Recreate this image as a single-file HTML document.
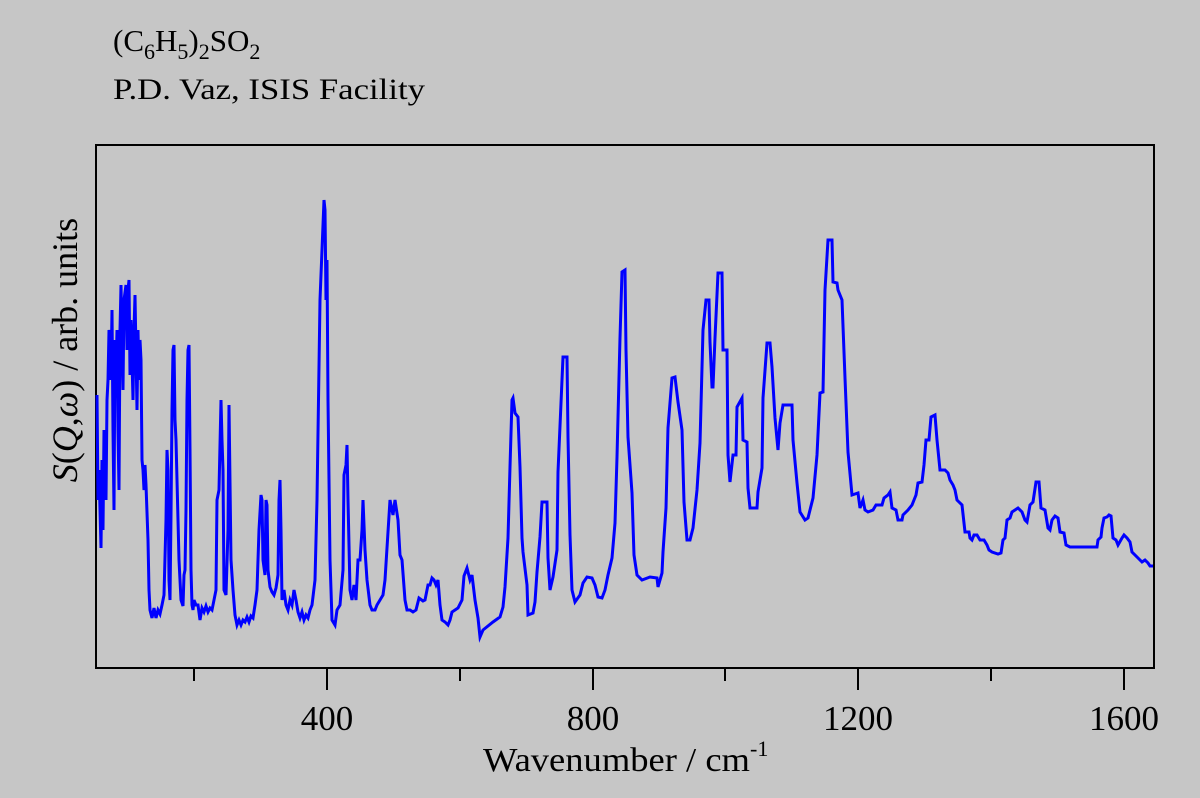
<!DOCTYPE html>
<html><head><meta charset="utf-8"><style>
html,body{margin:0;padding:0;background:#c6c6c6;}
svg{display:block;font-family:"Liberation Serif",serif;}
</style></head><body>
<svg width="1200" height="798" viewBox="0 0 1200 798" xmlns="http://www.w3.org/2000/svg">
<rect width="1200" height="798" fill="#c6c6c6"/>
<text x="113" y="51" font-size="31">(C<tspan font-size="22" dy="8">6</tspan><tspan dy="-8">H</tspan><tspan font-size="22" dy="8">5</tspan><tspan dy="-8">)</tspan><tspan font-size="22" dy="8">2</tspan><tspan dy="-8">SO</tspan><tspan font-size="22" dy="8">2</tspan></text>
<text x="113" y="99" font-size="30" textLength="312" lengthAdjust="spacingAndGlyphs">P.D. Vaz, ISIS Facility</text>
<rect x="96" y="145" width="1058" height="523" fill="none" stroke="#000" stroke-width="2"/>
<g stroke="#000" stroke-width="2">
<line x1="327" y1="668" x2="327" y2="690"/><line x1="593" y1="668" x2="593" y2="690"/><line x1="858" y1="668" x2="858" y2="690"/><line x1="1124" y1="668" x2="1124" y2="690"/>
<line x1="194" y1="668" x2="194" y2="681"/><line x1="460" y1="668" x2="460" y2="681"/><line x1="725" y1="668" x2="725" y2="681"/><line x1="991" y1="668" x2="991" y2="681"/>
</g>
<g font-size="35" text-anchor="middle">
<text x="327" y="730">400</text><text x="593" y="730">800</text><text x="858" y="730">1200</text><text x="1124" y="730">1600</text>
</g>
<text x="483" y="771" font-size="34"><tspan textLength="267" lengthAdjust="spacingAndGlyphs">Wavenumber / cm</tspan><tspan font-size="22" dy="-15">-1</tspan></text>
<text transform="translate(77,350) rotate(-90)" font-size="36" text-anchor="middle"><tspan font-style="italic">S</tspan>(<tspan font-style="italic">Q</tspan>,<tspan font-style="italic">ω</tspan>) / arb. units</text>
<polyline fill="none" stroke="#0000ff" stroke-width="3" stroke-linejoin="miter" points="
97,395 98,500 99,470 101,548 102,460 103,530 104,430 106,500 107,400 108,380 109,330 110,335 111,380 112,310 113,430 114,510 115,340 116,375 117,330 118,430 119,490 120,330 121,285 122,340 123,390 124,300 126,285 127,350 128,290 129,280 130,375 131,320 132,360 133,400 134,330 135,295 137,410 138,330 139,380 140,340 141,360 142,460 143,470 144,490 145,465 146,485 148,540 149,590 150,610 152,618 154,608 156,618 158,610 160,614 162,605 164,595 166,520 167,450 168,470 169,580 170,600 171,515 172,410 173,350 174,345 175,420 176,440 177,480 179,560 181,600 183,606 184,575 185,570 186,510 187,400 188,350 189,345 190,450 191,570 192,605 193,610 194,600 196,605 198,605 200,620 202,608 204,612 206,606 208,612 210,608 212,610 214,600 216,590 217,500 219,490 221,400 222,440 223,470 224,590 226,595 228,530 229,405 231,560 233,590 235,615 237,625 239,620 241,625 243,620 245,622 247,617 249,622 251,616 253,618 255,605 257,590 259,530 261,495 262,500 263,560 265,575 266,500 267,505 268,570 270,587 272,592 274,595 276,588 278,575 279,500 280,480 281,530 282,600 284,590 286,605 288,610 290,600 292,605 294,590 296,600 298,612 300,618 302,612 304,620 306,615 308,618 310,610 312,605 315,580 317,500 320,300 322,250 324,200 325,210 326,300 327,260 328,400 330,560 332,620 335,625 337,610 340,605 343,570 344,475 346,465 347,445 348,500 350,590 352,600 354,585 356,600 358,560 360,560 362,530 363,500 365,550 367,580 370,605 372,610 375,610 377,605 380,600 383,595 385,580 390,500 393,515 395,500 398,520 400,555 402,560 405,600 407,610 410,610 413,612 416,610 419,598 423,601 425,600 428,585 430,585 432,578 434,580 436,585 438,580 440,605 442,620 445,622 448,625 450,620 452,612 455,610 458,608 462,600 464,576 467,568 470,580 472,575 475,600 478,618 480,637 483,630 493,622 500,617 503,607 505,587 508,538 510,467 512,400 513,398 515,413 518,417 520,467 522,538 523,552 527,585 528,615 533,613 535,602 537,572 540,537 542,502 547,502 548,558 550,590 553,577 557,550 558,472 562,380 563,357 567,357 568,437 570,535 572,590 575,602 580,595 583,583 587,577 592,578 595,585 598,597 602,598 605,590 608,575 612,558 615,523 617,457 620,338 622,272 625,270 626,350 628,437 632,493 634,555 637,575 642,580 650,577 657,578 658,587 662,573 663,552 666,508 668,428 672,378 675,377 678,402 682,430 684,502 687,540 690,540 693,528 697,490 700,443 703,330 706,300 709,300 710,342 712,387 713,387 715,338 718,273 722,273 723,350 727,350 728,455 730,482 733,455 736,455 737,407 742,398 743,440 747,442 748,488 750,508 757,508 758,492 762,468 763,398 767,343 770,343 772,367 775,418 778,450 780,423 783,405 792,405 793,440 797,483 800,512 805,520 808,518 813,498 817,455 820,393 823,392 825,290 828,240 832,240 833,282 837,283 838,290 842,300 845,378 848,452 852,495 858,493 860,508 863,500 865,510 868,512 873,510 876,505 882,505 884,498 888,495 890,492 892,508 896,510 898,520 902,520 903,515 908,510 912,505 914,500 916,495 918,483 922,482 924,465 926,440 929,440 931,417 935,415 937,440 940,470 945,470 948,473 950,480 953,485 955,490 957,500 959,502 962,505 965,532 969,532 970,538 972,540 974,535 977,535 980,540 984,540 987,545 989,550 992,552 998,554 1001,553 1003,540 1005,538 1007,520 1010,518 1012,512 1015,510 1018,508 1022,512 1025,520 1027,522 1030,505 1033,502 1036,482 1039,482 1041,508 1045,510 1048,528 1050,530 1052,520 1055,516 1058,518 1060,532 1064,533 1066,545 1070,547 1097,547 1098,540 1101,537 1102,528 1104,518 1107,517 1109,515 1111,516 1113,538 1116,540 1118,545 1122,538 1124,535 1127,538 1130,542 1132,552 1135,555 1138,558 1142,562 1145,560 1148,563 1150,566 1153,566"/>
</svg>
</body></html>
